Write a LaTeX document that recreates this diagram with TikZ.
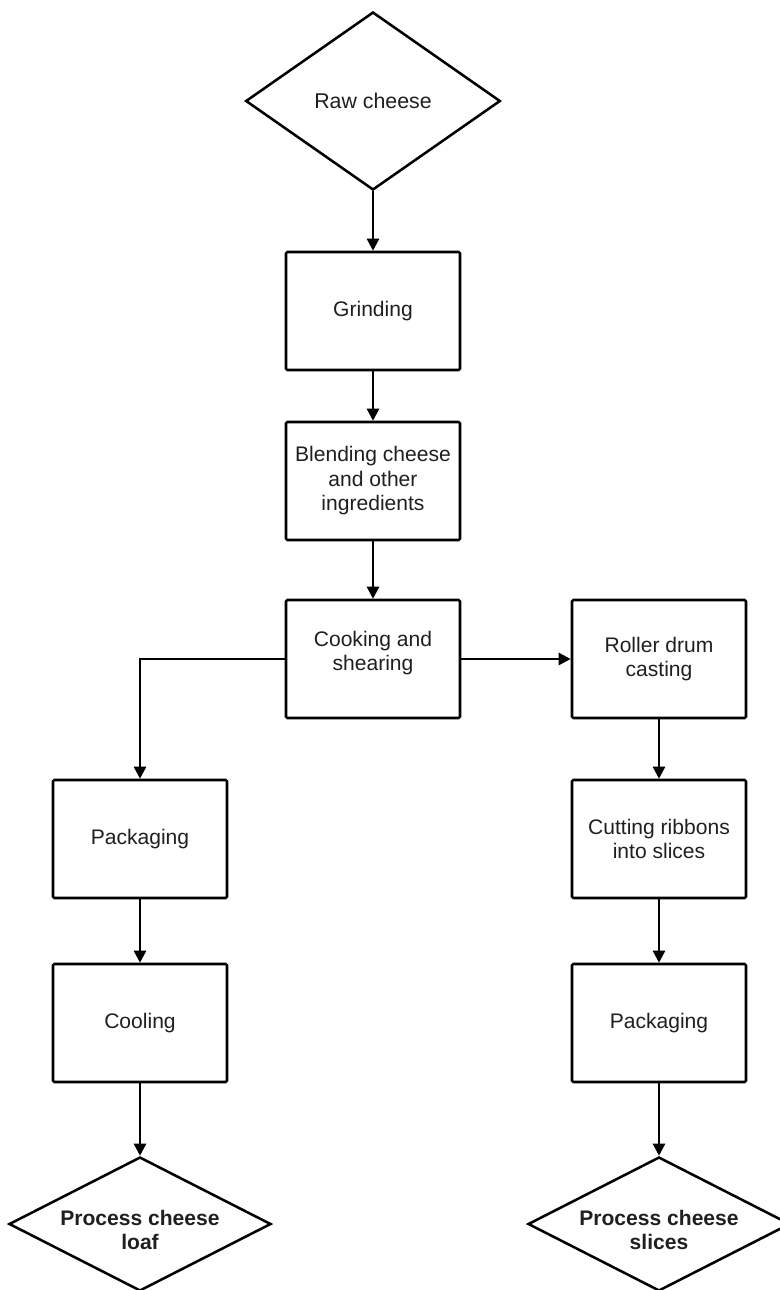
\documentclass[tikz,border=0pt]{standalone}
\usepackage{fontspec}
\setmainfont{Liberation Sans}
\usetikzlibrary{shapes.geometric,arrows.meta}
\begin{document}
\begin{tikzpicture}[x=0.75pt,y=-0.75pt,
  every node/.style={text=black!88, align=center, font=\fontsize{15.8pt}{18.4pt}\selectfont},
  stepbox/.style={draw=black, line width=1.9pt, rounded corners=1pt,
    minimum width=130.5pt, minimum height=88.5pt, inner sep=0pt},
  startdia/.style={draw=black, line width=1.9pt, diamond, aspect=1.43,
    minimum width=191pt, minimum height=133.5pt, inner sep=0pt,
    font=\fontsize{16pt}{18.4pt}\selectfont},
  enddia/.style={draw=black, line width=1.9pt, diamond, aspect=1.95,
    minimum width=196.5pt, minimum height=100.5pt, inner sep=0pt},
  endtext/.style={font=\bfseries\fontsize{15.8pt}{18.4pt}\selectfont, yshift=-4.5pt},
  flow/.style={draw=black, line width=1.9pt,
    -{Triangle[length=9pt,width=9pt]}}
]
\clip (0,0) rectangle (780,1290);
\useasboundingbox (0,0) rectangle (780,1290);

% main line
\node[startdia] (raw) at (373,101) {Raw cheese};
\node[stepbox] (grind) at (373,311) {Grinding};
\node[stepbox] (blend) at (373,481) {Blending cheese\\and other\\ingredients};
\node[stepbox, label={[yshift=4.5pt]center:Cooking and\\shearing}] (cook) at (373,659) {};

% loaf branch
\node[stepbox] (pack1) at (140,839) {Packaging};
\node[stepbox] (cool) at (140,1023) {Cooling};
\node[enddia, label={[endtext]center:Process cheese\\loaf}] (loaf) at (140,1224) {};

% slices branch
\node[stepbox] (roll) at (659,659) {Roller drum\\casting};
\node[stepbox] (cut) at (659,839) {Cutting ribbons\\into slices};
\node[stepbox] (pack2) at (659,1023) {Packaging};
\node[enddia, label={[endtext]center:Process cheese\\slices}] (slices) at (659,1224) {};

% connectors
\draw[flow] (raw.south) -- (grind.north);
\draw[flow] (grind) -- (blend);
\draw[flow] (blend) -- (cook);
\draw[flow] (cook.east) -- (roll.west);
\draw[flow] (cook.west) -| (pack1.north);
\draw[flow] (pack1) -- (cool);
\draw[flow] (cool) -- (loaf.north);
\draw[flow] (roll) -- (cut);
\draw[flow] (cut) -- (pack2);
\draw[flow] (pack2) -- (slices.north);
\end{tikzpicture}
\end{document}
